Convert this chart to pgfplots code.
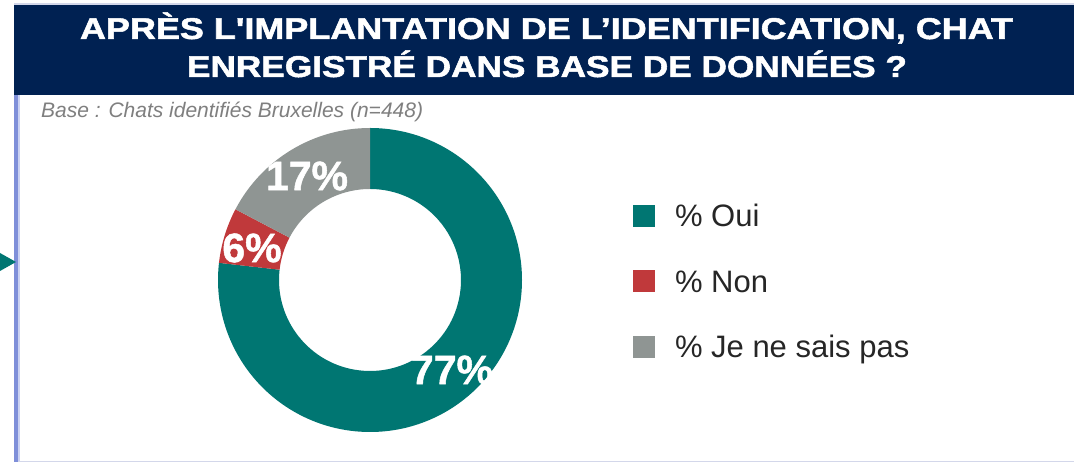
\documentclass[border=0pt]{standalone}
\usepackage{fontspec}
\setmainfont{Liberation Sans}
\newfontfamily\titlefont{Liberation Sans Bold}[Ligatures=TeXOff, FakeBold=1.6]
\newfontfamily\labelfont{Liberation Sans Bold}[FakeBold=1.2]
\usepackage{pgfplots}
\usepackage{pgfplotstable}
\pgfplotsset{compat=1.18}

\definecolor{navy}{HTML}{002152}
\definecolor{oui}{HTML}{007672}
\definecolor{non}{HTML}{C0393B}
\definecolor{nsp}{HTML}{8F9593}
\definecolor{subgray}{HTML}{7F7F7F}
\definecolor{legtext}{HTML}{262626}
\definecolor{sidebar}{HTML}{7F8FD9}
\definecolor{sidelight}{HTML}{CAD1F2}
\definecolor{frameline}{HTML}{D3D7EA}

% share of answers, in percent
\pgfplotstableread{
label value
Oui   76.8
Non   5.9
NSP   17.3
}\donutdata

% ring segment: colour, start angle, end angle (clockwise)
\newcommand{\ringpart}[3]{%
  \fill[#1] (axis cs:{152*cos(#2)},{152*sin(#2)})
    arc[start angle=#2, end angle=#3, radius=152pt]
    -- (axis cs:{91*cos(#3)},{91*sin(#3)})
    arc[start angle=#3, end angle=#2, radius=91pt] -- cycle;}

\begin{document}
\begin{tikzpicture}[x=1pt,y=1pt]
\pgfplotstablegetelem{0}{value}\of\donutdata \let\vOui\pgfplotsretval
\pgfplotstablegetelem{1}{value}\of\donutdata \let\vNon\pgfplotsretval
\pgfmathsetmacro\aA{90-3.6*\vOui}
\pgfmathsetmacro\aB{\aA-3.6*\vNon}

\fill[white] (0,0) rectangle (1074,462);
\path[use as bounding box] (0,0) rectangle (1074,462);

% frame
\fill[frameline] (14,457) rectangle (1074,458.5);
\fill[navy] (14,367) rectangle (1074,457);
\fill[sidebar] (14,0) rectangle (18,367);
\fill[sidelight] (18,0) rectangle (19.5,367);
\fill[frameline] (18,0) rectangle (1074,1.2);
\fill[oui] (0,209) -- (16,200) -- (0,191) -- cycle;

% title
\node[anchor=base, inner sep=0pt, text=white, font=\titlefont\fontsize{30}{30}\selectfont]
  at (546.5,423) {\resizebox{933pt}{\height}{APRÈS L'IMPLANTATION DE L’IDENTIFICATION, CHAT}};
\node[anchor=base, inner sep=0pt, text=white, font=\titlefont\fontsize{30}{30}\selectfont]
  at (547,385) {\resizebox{720pt}{\height}{ENREGISTRÉ DANS BASE DE DONNÉES ?}};
\node[anchor=base west, inner sep=0pt, text=subgray, font=\itshape\fontsize{21}{21}\selectfont]
  at (41,344) {Base : Chats identifiés Bruxelles (n=448)};

\begin{axis}[
    at={(370pt,182pt)}, anchor=center,
    x=1pt, y=1pt,
    xmin=-155, xmax=155, ymin=-155, ymax=155,
    hide axis,
    legend cell align=left,
    legend image code/.code={\fill[#1] (0pt,0pt) rectangle (22pt,22pt);},
    legend style={
        at={(axis cs:263,75)}, anchor=north west,
        draw=none, fill=none, inner sep=0pt, outer sep=0pt,
        row sep=36.5pt, column sep=20pt,
        font=\fontsize{31}{31}\selectfont, text=legtext,
        cells={anchor=base west},
        nodes={inner sep=0pt, text height=22pt, text depth=7pt}},
]
\addlegendimage{fill=oui, draw=none}
\addlegendentry{\% Oui}
\addlegendimage{fill=non, draw=none}
\addlegendentry{\% Non}
\addlegendimage{fill=nsp, draw=none}
\addlegendentry{\% Je ne sais pas}

\ringpart{oui}{90}{\aA}
\ringpart{non}{\aA}{\aB}
\ringpart{nsp}{\aB}{-270}

\node[text=white, font=\labelfont\fontsize{41}{41}\selectfont] at (axis cs:-63,104) {17\%};
\node[text=white, font=\labelfont\fontsize{41}{41}\selectfont] at (axis cs:-118,32) {6\%};
\node[text=white, font=\labelfont\fontsize{41}{41}\selectfont] at (axis cs:82,-90) {77\%};
\end{axis}
\end{tikzpicture}
\end{document}
